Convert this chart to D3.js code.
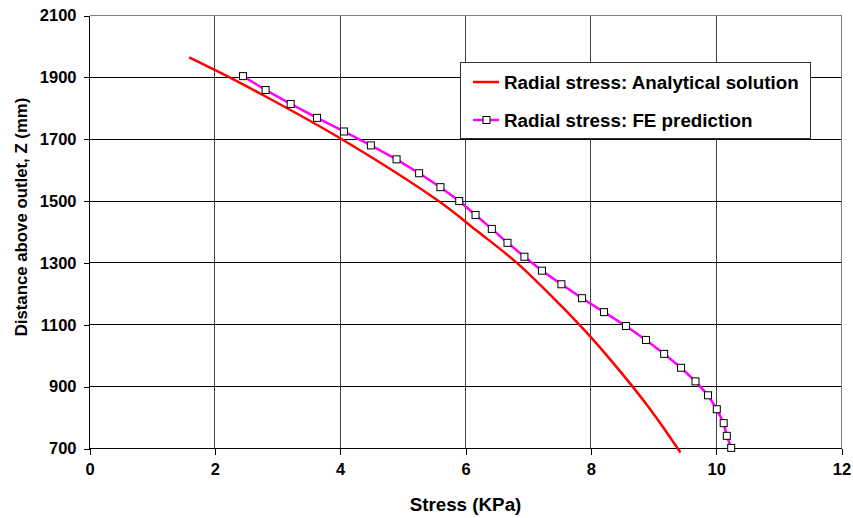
<!DOCTYPE html>
<html>
<head>
<meta charset="utf-8">
<script src="https://cdn.jsdelivr.net/npm/d3@7"></script>
<style>
  html, body { margin: 0; padding: 0; background: #fff; }
  svg { display: block; }
  text { font-family: "Liberation Sans", Arial, sans-serif; font-weight: bold; fill: #000; }
  .axis text { font-size: 16.5px; }
  .axis path, .axis line { stroke: #000; }
</style>
</head>
<body>
<div id="chart"></div>
<script>
// Analytical solution (red curve)
const analyticStress = [1.59, 2.0, 2.72, 4.0, 5.57, 6.18, 6.82, 7.508, 7.83, 8.0, 8.305, 8.667, 8.92, 9.156, 9.43];
const analyticZ = [1965, 1924, 1848, 1703, 1500, 1404, 1300, 1165, 1097, 1060, 989, 900, 834, 768, 687];

// FE prediction (magenta with square markers)
const feStress = [2.45, 2.81, 3.21, 3.63, 4.06, 4.49, 4.9, 5.26, 5.6, 5.9, 6.16, 6.42, 6.67, 6.94,
  7.22, 7.53, 7.86, 8.21, 8.56, 8.88, 9.17, 9.44, 9.67, 9.87, 10.01, 10.12, 10.17, 10.24];
const feZ = [1904, 1859, 1814, 1769, 1725, 1680, 1635, 1590, 1545, 1500, 1455, 1410, 1365, 1320,
  1275, 1231, 1186, 1141, 1096, 1051, 1006, 961, 917, 872, 827, 782, 741, 702];

const xTicks = [0, 2, 4, 6, 8, 10, 12];
const yTicks = [700, 900, 1100, 1300, 1500, 1700, 1900, 2100];

const seriesNames = ["Radial stress: Analytical solution", "Radial stress: FE prediction"];

const width = 853;
const height = 518;
const margin = { top: 15.5, right: 11.5, bottom: 69.5, left: 89.5 };

const svg = d3.select("#chart").append("svg").attr("width", width).attr("height", height);

const x = d3.scaleLinear().domain([0, 12]).range([margin.left, width - margin.right]);
const y = d3.scaleLinear().domain([700, 2100]).range([height - margin.bottom, margin.top]);

// grid
const grid = svg.append("g").attr("shape-rendering", "crispEdges");
grid.selectAll("line.h")
  .data(yTicks)
  .join("line")
  .attr("class", "h")
  .attr("x1", x(0)).attr("x2", x(12))
  .attr("y1", (d) => y(d)).attr("y2", (d) => y(d))
  .attr("stroke", (d) => (d === 2100 ? "#808080" : "#000"));
grid.selectAll("line.v")
  .data(xTicks.filter((d) => d > 0))
  .join("line")
  .attr("class", "v")
  .attr("x1", (d) => x(d)).attr("x2", (d) => x(d))
  .attr("y1", y(700)).attr("y2", y(2100))
  .attr("stroke", (d) => (d === 12 ? "#808080" : "#404040"));

// axes
svg.append("g")
  .attr("class", "axis")
  .attr("shape-rendering", "crispEdges")
  .attr("transform", `translate(0,${y(700)})`)
  .call(d3.axisBottom(x).tickValues(xTicks).tickSize(6).tickPadding(9).tickFormat(d3.format("d")))
  .call((g) => g.attr("font-family", null).attr("font-size", null))
  .call((g) => g.select(".domain").attr("d", `M${x(0)},0H${x(12)}`));

svg.append("g")
  .attr("class", "axis")
  .attr("shape-rendering", "crispEdges")
  .attr("transform", `translate(${x(0)},0)`)
  .call(d3.axisLeft(y).tickValues(yTicks).tickSize(6).tickPadding(7).tickFormat(d3.format("d")))
  .call((g) => g.attr("font-family", null).attr("font-size", null))
  .call((g) => g.select(".domain").attr("d", `M0,${y(700)}V${y(2100)}`));

// axis titles
svg.append("text")
  .attr("x", (x(0) + x(12)) / 2)
  .attr("y", 511)
  .attr("text-anchor", "middle")
  .attr("font-size", 18.8)
  .text("Stress (KPa)");

svg.append("text")
  .attr("transform", `translate(27,${217}) rotate(-90)`)
  .attr("text-anchor", "middle")
  .attr("font-size", 16.8)
  .text("Distance above outlet, Z (mm)");

// series
const analytic = analyticStress.map((s, i) => [s, analyticZ[i]]);
const fe = feStress.map((s, i) => [s, feZ[i]]);

svg.append("path")
  .datum(analytic)
  .attr("fill", "none")
  .attr("stroke", "#ff0000")
  .attr("stroke-width", 2.5)
  .attr("d", d3.line().x((d) => x(d[0])).y((d) => y(d[1])).curve(d3.curveCatmullRom.alpha(0.5)));

svg.append("path")
  .datum(fe)
  .attr("fill", "none")
  .attr("stroke", "#ff00ff")
  .attr("stroke-width", 2.5)
  .attr("d", d3.line().x((d) => x(d[0])).y((d) => y(d[1])));

svg.append("g")
  .selectAll("rect")
  .data(fe)
  .join("rect")
  .attr("x", (d) => x(d[0]) - 3.5)
  .attr("y", (d) => y(d[1]) - 3.5)
  .attr("width", 7)
  .attr("height", 7)
  .attr("fill", "#fff")
  .attr("stroke", "#000")
  .attr("stroke-width", 1);

// legend
const legend = svg.append("g").attr("transform", "translate(460,62)");
legend.append("rect")
  .attr("x", 0.5).attr("y", 0.5)
  .attr("width", 350).attr("height", 76)
  .attr("fill", "#fff")
  .attr("stroke", "#333")
  .attr("shape-rendering", "crispEdges");

const rows = legend.selectAll("g.row")
  .data(seriesNames)
  .join("g")
  .attr("class", "row")
  .attr("transform", (_, i) => `translate(0,${20 + i * 38})`);

rows.append("line")
  .attr("x1", 13).attr("x2", 39)
  .attr("y1", 0).attr("y2", 0)
  .attr("stroke", (_, i) => (i === 0 ? "#ff0000" : "#ff00ff"))
  .attr("stroke-width", 2.5);

rows.filter((_, i) => i === 1)
  .append("rect")
  .attr("x", 23).attr("y", -3.5)
  .attr("width", 7).attr("height", 7)
  .attr("fill", "#fff")
  .attr("stroke", "#000");

rows.append("text")
  .attr("x", 44)
  .attr("y", 7)
  .attr("font-size", 18.8)
  .text((d) => d);
</script>
</body>
</html>
